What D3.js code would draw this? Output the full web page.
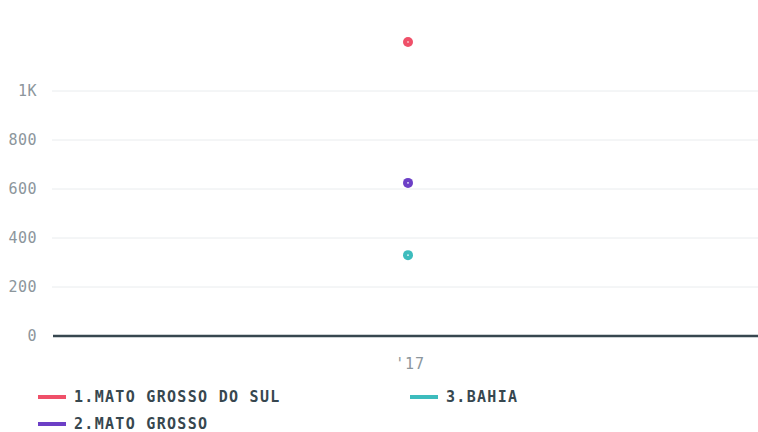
<!DOCTYPE html>
<html>
<head>
<meta charset="utf-8">
<script src="https://cdn.jsdelivr.net/npm/d3@7"></script>
<style>
  body { margin: 0; background: #fff; }
  svg { display: block; font-family: "DejaVu Sans Mono", monospace; }
  .grid line { stroke: #e9ecee; stroke-width: 1; }
  .ylab text { fill: #8c969c; font-size: 15px; letter-spacing: 0.5px; }
  .xlab text { fill: #8c969c; font-size: 15px; letter-spacing: 0.8px; }
  .legend text { fill: #37474f; font-size: 15px; font-weight: bold; letter-spacing: 1.3px; }
</style>
</head>
<body>
<div id="chart"></div>
<script>
const years = ["'17"];
const seriesNames = ["1.MATO GROSSO DO SUL", "2.MATO GROSSO", "3.BAHIA"];
const seriesValues = [[1200], [625], [330]];
const seriesColors = ["#ef5069", "#6c3fc6", "#3dbcbd"];
const yTicks = [0, 200, 400, 600, 800, 1000];

const W = 758, H = 432;
const margin = { top: 20, right: 0, bottom: 96, left: 52 };

const svg = d3.select("#chart").append("svg")
    .attr("width", W)
    .attr("height", H);

const y = d3.scaleLinear().domain([0, 1000]).range([336, 91]);
const x = d3.scalePoint().domain(years).range([margin.left, 764]).padding(0.5);

// grid lines
svg.append("g").attr("class", "grid")
  .selectAll("line")
  .data(yTicks.filter(d => d > 0))
  .enter().append("line")
    .attr("x1", margin.left).attr("x2", W)
    .attr("y1", d => y(d)).attr("y2", d => y(d));

// y labels
svg.append("g").attr("class", "ylab")
  .selectAll("text")
  .data(yTicks)
  .enter().append("text")
    .attr("x", 37)
    .attr("y", d => y(d))
    .attr("dy", "0.35em")
    .attr("text-anchor", "end")
    .text(d => d >= 1000 ? (d / 1000) + "K" : d);

// baseline
svg.append("line")
    .attr("x1", margin.left + 1).attr("x2", W)
    .attr("y1", y(0)).attr("y2", y(0))
    .attr("stroke", "#37474f")
    .attr("stroke-width", 2.5);

// x labels
svg.append("g").attr("class", "xlab")
  .selectAll("text")
  .data(years)
  .enter().append("text")
    .attr("x", d => x(d) + 2)
    .attr("y", 364)
    .attr("dy", "0.35em")
    .attr("text-anchor", "middle")
    .text(d => d);

// points
seriesNames.forEach((name, i) => {
    const g = svg.append("g");
    g.selectAll("circle.pt")
      .data(seriesValues[i])
      .enter().append("circle")
        .attr("class", "pt")
        .attr("cx", (d, j) => x(years[j]))
        .attr("cy", d => y(d))
        .attr("r", 5)
        .attr("fill", seriesColors[i]);
    g.selectAll("circle.dot")
      .data(seriesValues[i])
      .enter().append("circle")
        .attr("class", "dot")
        .attr("cx", (d, j) => x(years[j]))
        .attr("cy", d => y(d))
        .attr("r", 0.8)
        .attr("fill", "#fff");
});

// legend
const legendPos = [[38, 397], [38, 424], [410, 397]];
const legend = svg.append("g").attr("class", "legend")
  .selectAll("g")
  .data(seriesNames)
  .enter().append("g")
    .attr("transform", (d, i) => `translate(${legendPos[i][0]},${legendPos[i][1]})`);
legend.append("line")
    .attr("x1", 0).attr("x2", 28)
    .attr("stroke", (d, i) => seriesColors[i])
    .attr("stroke-width", 4);
legend.append("text")
    .attr("x", 36)
    .attr("dy", "0.35em")
    .text(d => d);
</script>
</body>
</html>
